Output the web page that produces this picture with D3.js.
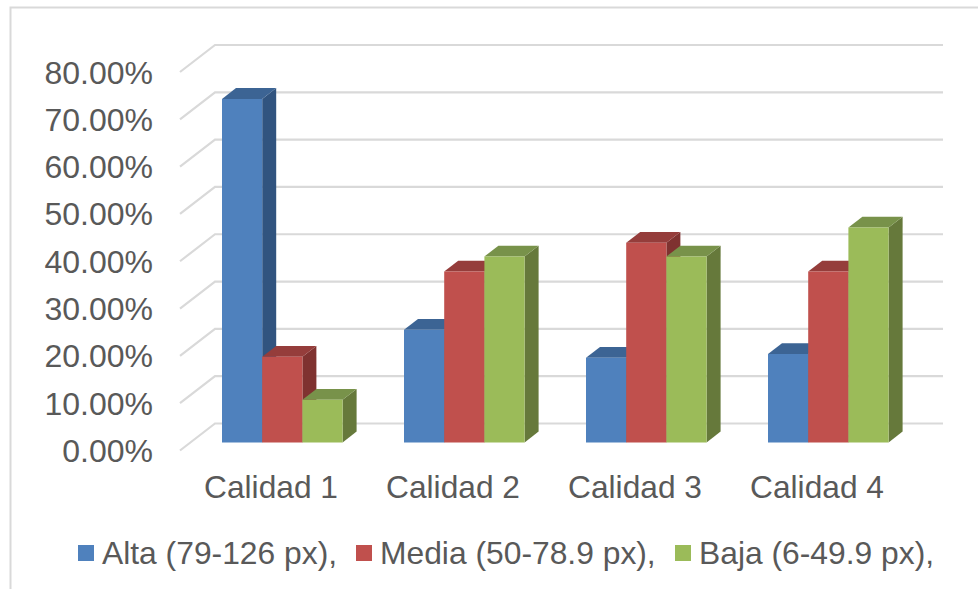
<!DOCTYPE html>
<html><head><meta charset="utf-8">
<script src="https://cdn.jsdelivr.net/npm/d3@7/dist/d3.min.js"></script>
<style>html,body{margin:0;padding:0;background:#fff;overflow:hidden}svg{display:block}text{font-family:"Liberation Sans",Arial,sans-serif;fill:#595959}</style>
</head><body><script>
const categories=["Calidad 1","Calidad 2","Calidad 3","Calidad 4"];
const seriesNames=["Alta (79-126 px),","Media (50-78.9 px),","Baja (6-49.9 px),"];
const alta=[72.6,23.8,17.9,18.7];
const media=[18.1,36.1,42.2,36.1];
const baja=[9.0,39.3,39.3,45.4];
const yTicks=[0,10,20,30,40,50,60,70,80];
const colors=["#4f81bd","#c0504d","#9bbb59"];
const topColors=["#3c6494","#953d3b","#78924a"];
const sideColors=["#31547f","#7f3230","#66793b"];
const series=[alta,media,baja];
const W=978,H=589;
const svg=d3.select("body").append("svg").attr("width",W).attr("height",H);
const x=d3.scaleBand().domain(categories).range([180,908]);
const y=d3.scaleLinear().domain([0,80]).range([450.5,72]);
const dx=d3.scaleLinear().domain([0,1]).range([0,35]);
const dy=d3.scaleLinear().domain([0,1]).range([0,-27]);
const P=(xv,val,d)=>[xv+dx(d),y(val)+dy(d)];
const poly=a=>a.map(p=>p.join(",")).join(" ");
// frame
svg.append("path").attr("d",`M10.5,${H}V7.5H${W}`).attr("fill","none").attr("stroke","#d9d9d9").attr("stroke-width",2);
// gridlines
const g=svg.append("g");
yTicks.forEach(t=>{
  const a=P(180,t,0),b=P(180,t,1),c=P(908,t,1);
  g.append("polyline").attr("points",poly([a,b,c])).attr("fill","none").attr("stroke","#d9d9d9").attr("stroke-width",2.2);
  svg.append("text").attr("x",153).attr("y",y(t)).attr("dy","0.36em").attr("text-anchor","end").attr("font-size",32).text(d3.format(".2f")(t)+"%");
});
// bars, back to front, left to right
const front=0.3,back=0.7;
const barW=40.2;
const inner=d3.scaleBand().domain(d3.range(3)).range([31.5,31.5+3*barW]);
categories.forEach((cat,ci)=>{
  series.forEach((s,si)=>{
    const x0=x(cat)+inner(si),x1=x0+inner.bandwidth(),v=s[ci];
    svg.append("polygon").attr("points",poly([P(x1,0,front),P(x1,0,back),P(x1,v,back),P(x1,v,front)])).attr("fill",sideColors[si]);
    svg.append("polygon").attr("points",poly([P(x0,v,front),P(x0,v,back),P(x1,v,back),P(x1,v,front)])).attr("fill",topColors[si]);
    svg.append("polygon").attr("points",poly([P(x0,0,front),P(x1,0,front),P(x1,v,front),P(x0,v,front)])).attr("fill",colors[si]);
  });
});
categories.forEach(c=>svg.append("text").attr("x",x(c)+x.bandwidth()/2).attr("y",498).attr("text-anchor","middle").attr("font-size",31.7).text(c));
const legendX=[78,356,675];
seriesNames.forEach((n,i)=>{
  svg.append("rect").attr("x",legendX[i]).attr("y",545).attr("width",16).attr("height",16).attr("fill",colors[i]);
  svg.append("text").attr("x",legendX[i]+24).attr("y",564).attr("font-size",31.8).text(n);
});
</script></body></html>
